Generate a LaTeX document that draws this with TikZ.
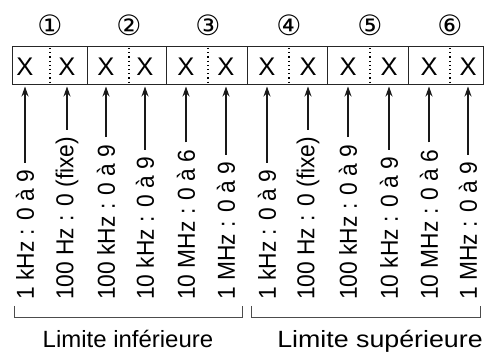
\documentclass[tikz,border=0pt]{standalone}
\usepackage{fontspec}
\setmainfont{Liberation Sans}
\newfontfamily\symfont{DejaVu Sans}
\usetikzlibrary{arrows.meta}
\begin{document}
\begin{tikzpicture}[x=1pt,y=-1pt,
  boxline/.style={draw=black!85,line width=0.9pt},
  dotdiv/.style={draw=black,line width=1.2pt,dash pattern=on 1.2pt off 3pt},
  lbl/.style={rotate=90,anchor=west,inner sep=0pt,font=\fontsize{24.5}{24.5}\selectfont},
  xlet/.style={inner sep=0pt,font=\fontsize{25.5}{25.5}\selectfont},
  cnum/.style={inner sep=0pt,font=\symfont\fontsize{28}{28}\selectfont},
  arr/.style={-{Stealth[length=10pt,width=7pt]},line width=1.1pt,black!90},
  brk/.style={draw=black!70,line width=0.8pt},
  captxt/.style={inner sep=0pt,anchor=base,font=\fontsize{23.5}{23.5}\selectfont}]
\useasboundingbox (0,0) rectangle (487,352);
% box
\draw[boxline] (12,46.5) rectangle (483,84.5);
\foreach \gx in {87,166,247,327,408}{\draw[boxline] (\gx,46.5) -- (\gx,84.5);}
\foreach \dx [count=\i] in {50,129,208,289,370,450}{
  \draw[dotdiv] (\dx,48) -- (\dx,84);
  \node[cnum] (c\i) at (\dx,25) {\ifcase\i\or ①\or ②\or ③\or ④\or ⑤\or ⑥\fi};
}
% X letters and labels
\foreach \ax/\t [count=\k] in {25/{1 kHz : 0 à 9},67/{100 Hz : 0 (fixe)},106/{100 kHz : 0 à 9},145/{10 kHz : 0 à 9},186/{10 MHz : 0 à 6},226/{1 MHz : 0 à 9},267/{1 kHz : 0 à 9},308/{100 Hz : 0 (fixe)},348/{100 kHz : 0 à 9},389/{10 kHz : 0 à 9},429/{10 MHz : 0 à 6},468/{1 MHz : 0 à 9}}{
  \node[xlet] (x\k) at (\ax,67) {X};
  \node[lbl] (t\k) at (\ax,300) {\scalebox{0.93}[1]{\t}};
  \draw[arr] ([yshift=7pt]t\k.east) -- (\ax,86.5);
}
% brackets
\coordinate (b1) at (14,306); \coordinate (b2) at (242,306);
\coordinate (b3) at (251,306); \coordinate (b4) at (480,306);
\draw[brk] (b1) -- ++(0,11) -| (b2);
\draw[brk] (b3) -- ++(0,11) -| (b4);
\node[captxt,xscale=1.02] (lo) at (128,348) {Limite inférieure};
\node[captxt,xscale=1.14] (hi) at (380,348) {Limite supérieure};
\end{tikzpicture}
\end{document}
